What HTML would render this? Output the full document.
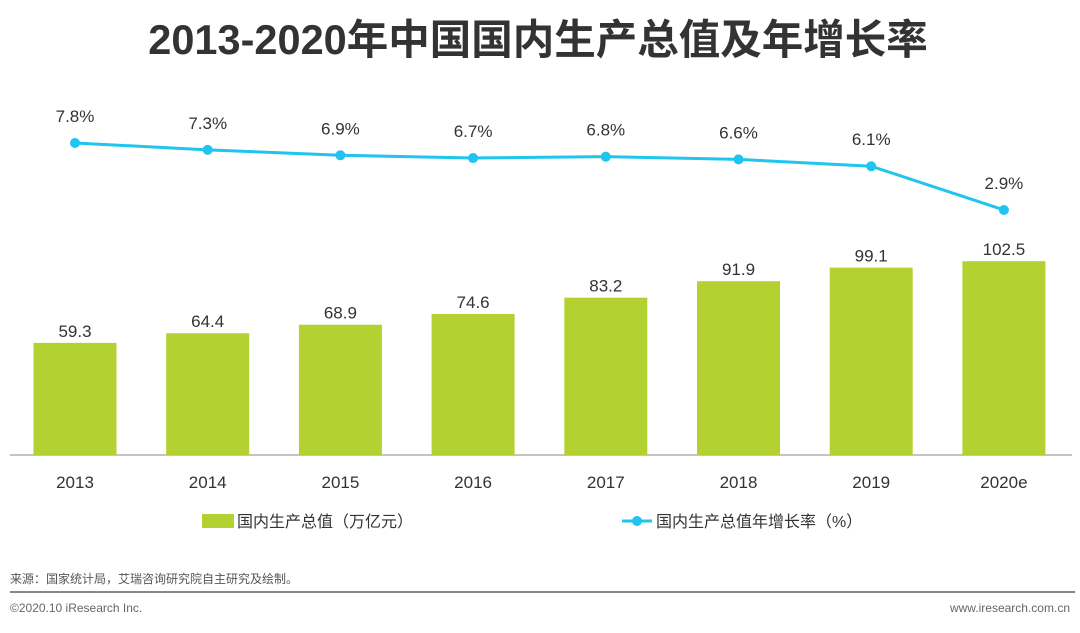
<!DOCTYPE html>
<html><head><meta charset="utf-8"><style>
body{margin:0;width:1080px;height:628px;background:#fff;overflow:hidden;font-family:"Liberation Sans","Noto Sans CJK SC",sans-serif;}
</style></head><body>
<svg width="1080" height="628">
<text x="538" y="54" text-anchor="middle" font-size="41.5" font-weight="bold" fill="#333" font-family="Liberation Sans, Noto Sans CJK SC, sans-serif">2013-2020年中国国内生产总值及年增长率</text>
<line x1="10" y1="455" x2="1072" y2="455" stroke="#888" stroke-width="1"/>
<g id="bars"></g><g id="line"></g><g id="xt"></g>
<g font-size="16" fill="#333">
<rect x="202" y="514" width="32" height="14" fill="#b3d232"/>
<text x="237" y="527">国内生产总值（万亿元）</text>
<line x1="622" y1="521" x2="652" y2="521" stroke="#1fc4ef" stroke-width="3"/>
<circle cx="637" cy="521" r="5" fill="#1fc4ef"/>
<text x="656" y="527">国内生产总值年增长率（%）</text>
</g>
<text x="10" y="583" font-size="12" fill="#555">来源：国家统计局，艾瑞咨询研究院自主研究及绘制。</text>
<line x1="10" y1="592" x2="1075" y2="592" stroke="#888" stroke-width="2"/>
<text x="10" y="612" font-size="12" fill="#666">©2020.10 iResearch Inc.</text>
<text x="1070" y="612" font-size="12" fill="#666" text-anchor="end">www.iresearch.com.cn</text>
</svg>
<script>
const categories=["2013","2014","2015","2016","2017","2018","2019","2020e"];
const gdpValues=[59.3,64.4,68.9,74.6,83.2,91.9,99.1,102.5];
const growthValues=[7.8,7.3,6.9,6.7,6.8,6.6,6.1,2.9];
const NS="http://www.w3.org/2000/svg";
function xc(i){return 75+i*132.7;}
function yBar(v){return 455-v*1.891;}
function yLine(v){return 143+(7.8-v)*13.67;}
function mk(t,a,p){const e=document.createElementNS(NS,t);for(const k in a)e.setAttribute(k,a[k]);p.appendChild(e);return e;}
const bars=document.getElementById('bars'),line=document.getElementById('line'),xt=document.getElementById('xt');
gdpValues.forEach((v,i)=>{
 const r=mk('rect',{x:xc(i)-41.5,y:yBar(v),width:83,height:455-yBar(v),fill:'#b3d232'},bars);
 
 
 const t=mk('text',{x:xc(i),y:yBar(v)-6,'text-anchor':'middle','font-size':17,fill:'#333'},bars);t.textContent=v.toFixed(1);
 
 
 const c=mk('text',{x:xc(i),y:488,'text-anchor':'middle','font-size':17,fill:'#333'},xt);c.textContent=categories[i];
 
 
});
const pl=mk('polyline',{points:growthValues.map((v,i)=>xc(i)+','+yLine(v)).join(' '),fill:'none',stroke:'#1fc4ef','stroke-width':3},line);


growthValues.forEach((v,i)=>{
 const c=mk('circle',{cx:xc(i),cy:yLine(v),r:5,fill:'#1fc4ef'},line);
 
 
 const t=mk('text',{x:xc(i),y:yLine(v)-21,'text-anchor':'middle','font-size':17,fill:'#333'},line);t.textContent=v.toFixed(1)+'%';
 
 
});
</script>
</body></html>
